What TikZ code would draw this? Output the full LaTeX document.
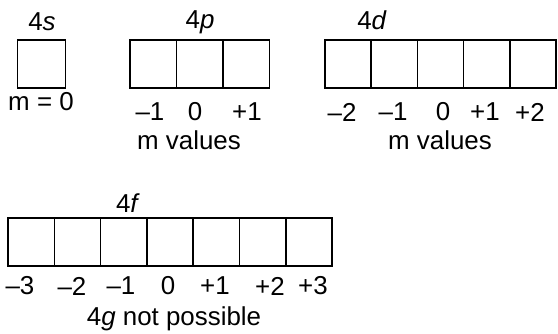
\documentclass[tikz,border=0pt]{standalone}
\usepackage{fontspec}
\setmainfont{Liberation Sans}
\usetikzlibrary{positioning}

\tikzset{
  orb/.style={draw, line width=1.5bp, minimum width=46.3bp, minimum height=48bp, inner sep=0pt},
  lbl/.style={font=\fontsize{26}{30}\selectfont, inner sep=0pt}
}

\begin{document}
\begin{tikzpicture}[x=1bp, y=-1bp]
\useasboundingbox (0,0) rectangle (558,333);

% 4s
\node[lbl] (s-name) at (42,22) {4\textit{s}};
\node[orb, minimum width=48bp] (s0) at (41.5,64) {};
\node[lbl] (s-m) at (41,102) {m = 0};

% 4p
\node[lbl] (p-name) at (200,22) {4\textit{p}};
\node[orb, minimum width=46.5bp] (p1) at (153.25,64) {};
\node[orb, minimum width=46.5bp] (p2) at (199.75,64) {};
\node[orb, minimum width=46.5bp] (p3) at (246.25,64) {};
\node[lbl] (p-m1) at (150,112) {–1};
\node[lbl] (p-m2) at (195,112) {0};
\node[lbl] (p-m3) at (247,112) {+1};
\node[lbl] (p-mv) at (189,140) {m values};

% 4d
\node[lbl] (d-name) at (372,20) {4\textit{d}};
\node[orb, minimum width=46.2bp] (d1) at (348.1,64) {};
\node[orb, minimum width=46.2bp] (d2) at (394.3,64) {};
\node[orb, minimum width=46.2bp] (d3) at (440.5,64) {};
\node[orb, minimum width=46.2bp] (d4) at (486.7,64) {};
\node[orb, minimum width=46.2bp] (d5) at (532.9,64) {};
\node[lbl] (d-m1) at (342,112) {–2};
\node[lbl] (d-m2) at (393,112) {–1};
\node[lbl] (d-m3) at (443,112) {0};
\node[lbl] (d-m4) at (485,112) {+1};
\node[lbl] (d-m5) at (530,112) {+2};
\node[lbl] (d-mv) at (440,140) {m values};

% 4f
\node[lbl] (f-name) at (128,203) {4\textit{f}};
\node[orb] (f1) at (31.1,242) {};
\node[orb] (f2) at (77.4,242) {};
\node[orb] (f3) at (123.7,242) {};
\node[orb] (f4) at (170,242) {};
\node[orb] (f5) at (216.3,242) {};
\node[orb] (f6) at (262.6,242) {};
\node[orb] (f7) at (308.9,242) {};
\node[lbl] (f-m1) at (20,286) {–3};
\node[lbl] (f-m2) at (72,286) {–2};
\node[lbl] (f-m3) at (121,286) {–1};
\node[lbl] (f-m4) at (168,286) {0};
\node[lbl] (f-m5) at (215,286) {+1};
\node[lbl] (f-m6) at (270,286) {+2};
\node[lbl] (f-m7) at (313,286) {+3};
\node[lbl] (g-note) at (174,319) {4\textit{g} not possible};
\end{tikzpicture}
\end{document}
